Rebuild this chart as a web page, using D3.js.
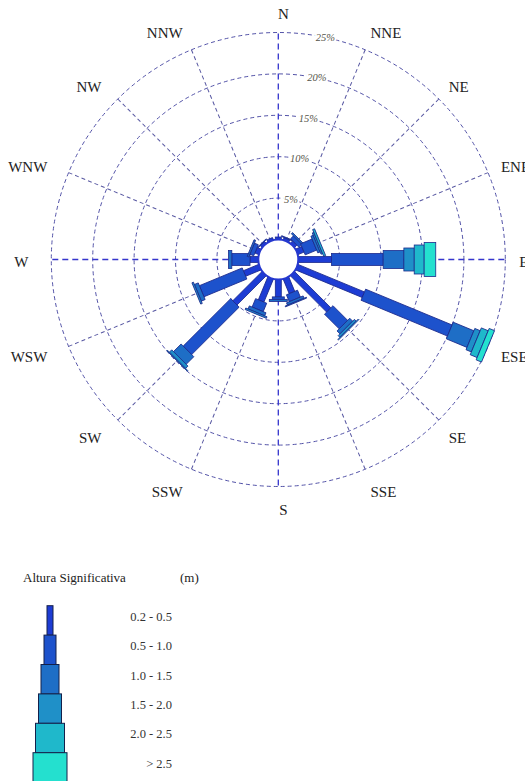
<!DOCTYPE html>
<html><head><meta charset="utf-8">
<script src="https://cdn.jsdelivr.net/npm/d3@7"></script>
<style>
body{margin:0;background:#fff;}
svg{display:block;font-family:"Liberation Serif","Times New Roman",serif;}
</style>
</head><body>
<svg id="chart" width="525" height="781"></svg>
<script>
// ---------- DATA ----------
const directions = ["N","NNE","NE","ENE","E","ESE","SE","SSE","S","SSW","SW","WSW","W","WNW","NW","NNW"];
const heightClasses = ["0.2 - 0.5","0.5 - 1.0","1.0 - 1.5","1.5 - 2.0","2.0 - 2.5","> 2.5"];
// frequency (%) per direction, one array per wave-height class
const h02_05 = [0.3, 0.3, 0.4, 0.8, 4.0, 8.7, 6.2, 1.9, 2.1, 3.0, 5.0, 2.0, 1.0, 0.5, 0.3, 0.3];
const h05_10 = [0.0, 0.1, 0.5, 1.5, 6.25, 11.3, 2.5, 0.9, 0.3, 1.1, 8.1, 5.6, 2.2, 0.5, 0.1, 0.0];
const h10_15 = [0.0, 0.0, 0.2, 0.3, 2.5, 2.7, 0.5, 0.3, 0.25, 0.4, 1.3, 0.5, 0.4, 0.2, 0.0, 0.0];
const h15_20 = [0.0, 0.0, 0.0, 0.2, 1.25, 0.7, 0.3, 0.1, 0.0, 0.2, 0.4, 0.2, 0.0, 0.0, 0.0, 0.0];
const h20_25 = [0.0, 0.0, 0.0, 0.25, 1.2, 0.9, 0.1, 0.0, 0.0, 0.0, 0.1, 0.0, 0.0, 0.0, 0.0, 0.0];
const h25_up = [0.0, 0.0, 0.0, 0.0, 1.4, 0.7, 0.0, 0.0, 0.0, 0.0, 0.0, 0.0, 0.0, 0.0, 0.0, 0.0];
const ringTicks = [5, 10, 15, 20, 25];
const ringLabels = ["5%", "10%", "15%", "20%", "25%"];

// ---------- STYLE ----------
const series = [h02_05, h05_10, h10_15, h15_20, h20_25, h25_up];
const classColors = ["#1d3cd4", "#1d52cc", "#1e6ec6", "#1f90c8", "#1fb8cb", "#24e0cf"];
const classWidths = [6, 12, 18, 23, 29, 34];
const cx = 278.3, cy = 259.5;
const holeR = 20, outerR = 227;

const svg = d3.select("#chart");
const r = d3.scaleLinear().domain([0, 25]).range([holeR, outerR]);
const ang = d3.scaleLinear().domain([0, directions.length]).range([0, 360]);
const rad = d => d * Math.PI / 180;

// ---------- GRID ----------
const grid = svg.append("g").attr("transform", `translate(${cx},${cy})`);
grid.selectAll("circle.ring").data(ringTicks).join("circle")
  .attr("class", "ring").attr("r", d => r(d))
  .attr("fill", "none").attr("stroke", "#5353a8").attr("stroke-width", 1)
  .attr("stroke-dasharray", "4,3");
grid.selectAll("line.spoke").data(directions).join("line")
  .attr("class", "spoke")
  .attr("transform", (d, i) => `rotate(${ang(i)})`)
  .attr("x1", 0).attr("x2", 0).attr("y1", -r(0)).attr("y2", -r(25))
  .attr("stroke", (d, i) => i % 4 === 0 ? "#3535cc" : "#5858a2")
  .attr("stroke-width", (d, i) => i % 4 === 0 ? 1.3 : 1)
  .attr("stroke-dasharray", (d, i) => i % 4 === 0 ? "6,4" : "4,3");

// ring percent labels
const labAng = 12;
grid.selectAll("text.pct").data(ringTicks).join("text")
  .attr("class", "pct")
  .attr("x", d => r(d) * Math.sin(rad(labAng)))
  .attr("y", d => -r(d) * Math.cos(rad(labAng)))
  .attr("text-anchor", "middle").attr("dominant-baseline", "central")
  .attr("font-size", 10.5).attr("font-style", "italic")
  .attr("fill", "#55554a").attr("stroke", "#fff").attr("stroke-width", 4)
  .attr("paint-order", "stroke")
  .text((d, i) => ringLabels[i]);

// ---------- BARS ----------
const bars = svg.append("g").attr("transform", `translate(${cx},${cy})`);
directions.forEach((dir, i) => {
  const g = bars.append("g").attr("transform", `rotate(${ang(i)})`);
  let cum = 0;
  const segs = series.map((s, k) => {
    const start = cum; cum += s[i];
    return { k, start, end: cum, v: s[i] };
  }).filter(s => s.v > 0);
  g.selectAll("rect").data(segs).join("rect")
    .attr("x", s => -classWidths[s.k] / 2)
    .attr("width", s => classWidths[s.k])
    .attr("y", s => -r(s.end))
    .attr("height", s => r(s.end) - r(s.start))
    .attr("fill", s => classColors[s.k])
    .attr("stroke", "#1c2a8c").attr("stroke-width", 0.8);
});

// hole
svg.append("circle").attr("cx", cx).attr("cy", cy).attr("r", holeR)
  .attr("fill", "#fff").attr("stroke", "#2638cf").attr("stroke-width", 2);

// ---------- DIRECTION LABELS ----------
svg.append("g").selectAll("text.dir").data(directions).join("text")
  .attr("class", "dir")
  .attr("x", (d, i) => {
    const s = Math.sin(rad(ang(i)));
    if (Math.abs(s) < 0.01) return cx + 5;
    return s > 0 ? cx + 241 * s : cx + 250 * s;
  })
  .attr("y", (d, i) => 262.4 - 248 * Math.cos(rad(ang(i))))
  .attr("text-anchor", (d, i) => {
    const s = Math.sin(rad(ang(i)));
    return Math.abs(s) < 0.01 ? "middle" : (s > 0 ? "start" : "end");
  })
  .attr("dominant-baseline", "central")
  .attr("font-size", 15).attr("fill", "#222")
  .text(d => d);

// ---------- LEGEND ----------
const leg = svg.append("g");
leg.append("text").attr("x", 23).attr("y", 582).attr("font-size", 13).attr("fill", "#222")
  .text("Altura Significativa");
leg.append("text").attr("x", 180).attr("y", 582).attr("font-size", 13).attr("fill", "#222")
  .text("(m)");
const legTop = 605.7, legStep = 29.4, legCx = 50;
leg.selectAll("rect").data(heightClasses).join("rect")
  .attr("x", (d, k) => legCx - classWidths[k] / 2)
  .attr("width", (d, k) => classWidths[k])
  .attr("y", (d, k) => legTop + k * legStep)
  .attr("height", legStep)
  .attr("fill", (d, k) => classColors[k])
  .attr("stroke", "#14204a").attr("stroke-width", 1);
leg.selectAll("text.lab").data(heightClasses).join("text")
  .attr("class", "lab")
  .attr("x", 172).attr("y", (d, k) => legTop + k * legStep + 15)
  .attr("text-anchor", "end").attr("font-size", 12.5).attr("fill", "#333")
  .text(d => d);
</script>
</body></html>
